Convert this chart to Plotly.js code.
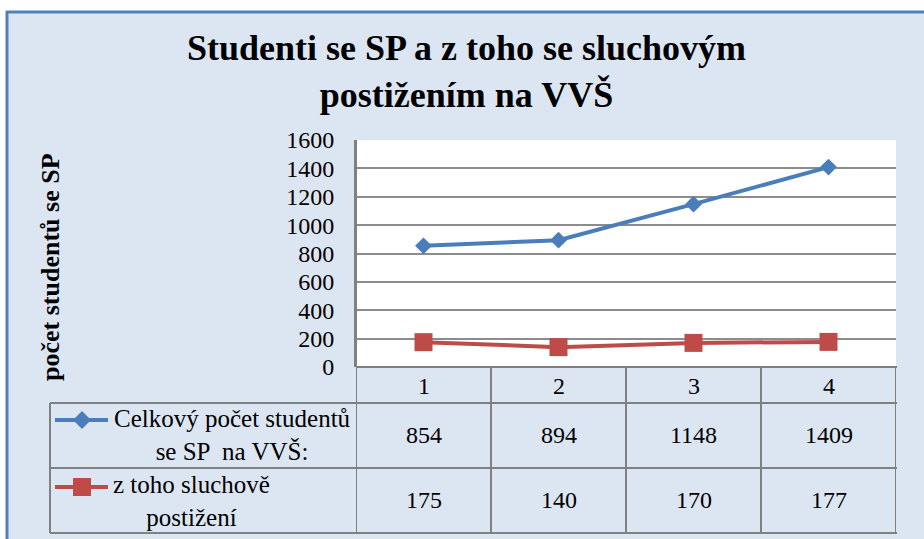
<!DOCTYPE html>
<html>
<head>
<meta charset="utf-8">
<script src="https://cdn.plot.ly/plotly-3.0.1.min.js"></script>
<style>html,body{margin:0;padding:0;background:#fff;}#chart{width:924px;height:539px;}</style>
</head>
<body>
<div id="chart"></div>
<script>
// ---- data ----
const categories = [1, 2, 3, 4];
const totalStudents = [854, 894, 1148, 1409];
const hearingImpaired = [175, 140, 170, 177];
const seriesNames = ['Celkový počet studentů<br>se SP  na VVŠ:', 'z toho sluchově<br>postižení'];
const yTickValues = [0, 200, 400, 600, 800, 1000, 1200, 1400, 1600];
const chartTitle = 'Studenti se SP a z toho se sluchovým<br>postižením na VVŠ';
const yAxisTitle = 'počet studentů se SP';

// ---- layout helpers (pixel -> paper) ----
const W = 924, H = 539;
const M = {l: 356, r: 28, t: 140, b: 172};
const PW = W - M.l - M.r, PH = H - M.t - M.b;
const px = v => (v - M.l) / PW;
const py = v => (H - M.b - v) / PH;

const FONT = 'Liberation Serif';
const BLUE = '#4a7ebb', RED = '#be4b48';
const GRID = '#8c8c8c';
const BG = '#dce6f2';

const traces = [
  {x: categories, y: totalStudents, type: 'scatter', mode: 'lines+markers', name: seriesNames[0],
   line: {color: BLUE, width: 4}, marker: {symbol: 'diamond', size: 13, color: BLUE}},
  {x: categories, y: hearingImpaired, type: 'scatter', mode: 'lines+markers', name: seriesNames[1],
   line: {color: RED, width: 4}, marker: {symbol: 'square', size: 18, color: RED}}
];

const shapes = [];
// white outside the chart frame
shapes.push({type: 'rect', xref: 'paper', yref: 'paper', x0: px(0), x1: px(W), y0: py(0), y1: py(11), fillcolor: '#fff', line: {width: 0}, layer: 'below'});
shapes.push({type: 'rect', xref: 'paper', yref: 'paper', x0: px(0), x1: px(6), y0: py(0), y1: py(H), fillcolor: '#fff', line: {width: 0}, layer: 'below'});
// frame border
shapes.push({type: 'line', xref: 'paper', yref: 'paper', x0: px(6), x1: px(W + 5), y0: py(12), y1: py(12), line: {color: '#4f81bd', width: 3}});
shapes.push({type: 'line', xref: 'paper', yref: 'paper', x0: px(7), x1: px(7), y0: py(11), y1: py(H + 5), line: {color: '#4f81bd', width: 3}});

// data table grid
const TB = '#808080';
const tableRows = [367, 403, 468, 533];
const hline = (x0, x1, y) => shapes.push({type: 'line', xref: 'paper', yref: 'paper', x0: px(x0), x1: px(x1), y0: py(y), y1: py(y), line: {color: TB, width: 2}});
hline(356, 897, tableRows[0]);
hline(50, 897, tableRows[1]);
hline(50, 897, tableRows[2]);
hline(50, 897, tableRows[3]);
// column separators at category boundaries
const bounds = [0.5].concat(categories.map(c => c + 0.5));
bounds.forEach((b, i) => {
  shapes.push({type: 'line', xref: 'x', yref: 'paper', x0: b, x1: b, y0: i === 0 ? 1 : py(367), y1: py(533), line: {color: TB, width: 2}});
});
shapes.push({type: 'line', xref: 'paper', yref: 'paper', x0: px(50), x1: px(50), y0: py(403), y1: py(533), line: {color: TB, width: 2}});

// legend keys in table
const keyY = [420, 487];
const keyColors = [BLUE, RED];
keyY.forEach((ky, i) => {
  shapes.push({type: 'line', xref: 'paper', yref: 'paper', x0: px(55), x1: px(108), y0: py(ky), y1: py(ky), line: {color: keyColors[i], width: 4}});
});
shapes.push({type: 'path', xref: 'paper', yref: 'paper', xsizemode: 'pixel', ysizemode: 'pixel', xanchor: px(82), yanchor: py(keyY[0]),
  path: 'M -9 0 L 0 9 L 9 0 L 0 -9 Z', fillcolor: BLUE, line: {width: 0}});
shapes.push({type: 'path', xref: 'paper', yref: 'paper', xsizemode: 'pixel', ysizemode: 'pixel', xanchor: px(82), yanchor: py(keyY[1]),
  path: 'M -9 -9 L 9 -9 L 9 9 L -9 9 Z', fillcolor: RED, line: {width: 0}});

const annotations = [];
const txt = (o) => Object.assign({showarrow: false, xanchor: 'center', yanchor: 'middle', align: 'center', font: {family: FONT, size: 24, color: '#000'}}, o);
// title
annotations.push(txt({xref: 'paper', yref: 'paper', x: px(466), y: py(72),
  text: '<b>' + chartTitle + '</b>', font: {family: FONT, size: 36, color: '#000'}}));
// y axis title
annotations.push(txt({xref: 'paper', yref: 'paper', x: px(50), y: py(267), textangle: -90,
  text: '<b>' + yAxisTitle + '</b>', font: {family: FONT, size: 26, color: '#000'}}));
// header row
categories.forEach(c => annotations.push(txt({xref: 'x', yref: 'paper', x: c, y: py(386), text: String(c)})));
// value rows
totalStudents.forEach((v, i) => annotations.push(txt({xref: 'x', yref: 'paper', x: categories[i], y: py(435), text: String(v)})));
hearingImpaired.forEach((v, i) => annotations.push(txt({xref: 'x', yref: 'paper', x: categories[i], y: py(500), text: String(v)})));
// series names
annotations.push(txt({xref: 'paper', yref: 'paper', x: px(232), y: py(435), text: seriesNames[0], font: {family: FONT, size: 25, color: '#000'}}));
annotations.push(txt({xref: 'paper', yref: 'paper', x: px(191), y: py(501), text: seriesNames[1], font: {family: FONT, size: 25, color: '#000'}}));

const layout = {
  width: W, height: H,
  margin: M,
  paper_bgcolor: BG,
  plot_bgcolor: '#ffffff',
  showlegend: false,
  font: {family: FONT, size: 24, color: '#000'},
  xaxis: {range: [0.5, 4.5], showticklabels: false, showgrid: false, zeroline: false, showline: false, ticks: '', fixedrange: true},
  yaxis: {range: [0, 1600], tickvals: yTickValues, ticktext: yTickValues.map(String), showgrid: true, gridcolor: GRID, gridwidth: 2,
    zeroline: false, showline: true, linecolor: TB, linewidth: 2, ticks: '', ticklabelstandoff: 15,
    tickfont: {family: FONT, size: 24, color: '#000'}, fixedrange: true},
  shapes: shapes,
  annotations: annotations
};

Plotly.newPlot('chart', traces, layout, {displayModeBar: false, staticPlot: true});
</script>
</body>
</html>
